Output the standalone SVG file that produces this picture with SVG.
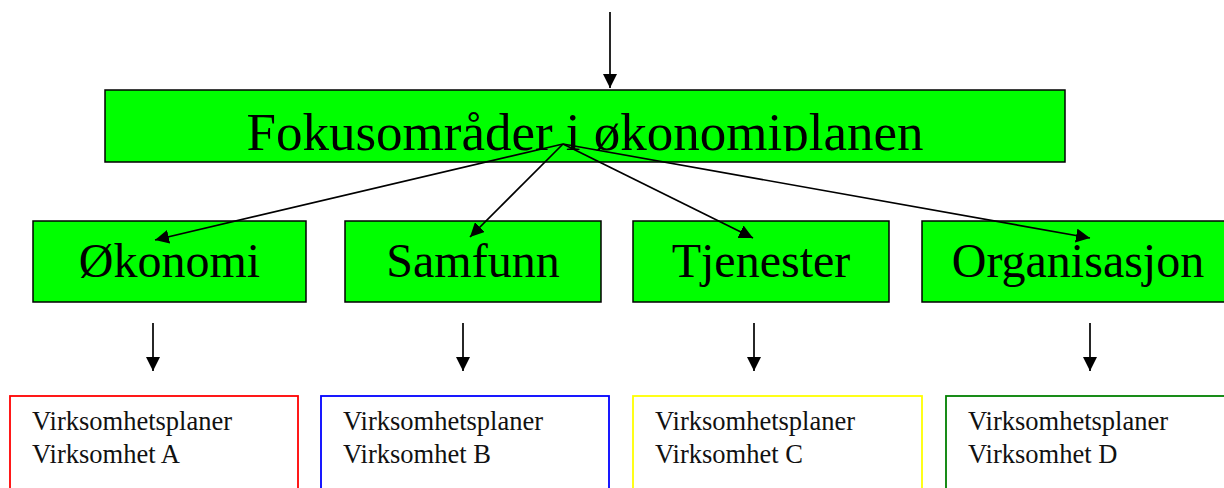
<svg xmlns="http://www.w3.org/2000/svg" width="1224" height="488" viewBox="0 0 1224 488">
<style>
.g{fill:#00FF00;stroke:#000;stroke-width:1.5}
.big{font-family:"Liberation Serif","Times New Roman",serif;fill:#000;text-anchor:middle}
.sm{font-family:"Liberation Serif","Times New Roman",serif;font-size:26.5px;fill:#111}
.c{stroke:#000;stroke-width:1.7;fill:none;marker-end:url(#ah)}
.b{fill:#fff;stroke-width:1.8}
</style>
<defs>
<marker id="ah" markerUnits="userSpaceOnUse" viewBox="0 0 14 14" refX="14" refY="7" markerWidth="14" markerHeight="14" orient="auto">
<path d="M0,0 L14,7 L0,14 z" fill="#000"/>
</marker>
<clipPath id="topclip"><rect x="105" y="90" width="960" height="61"/></clipPath>
</defs>
<rect width="1224" height="488" fill="#fff"/>
<g id="top">
<rect class="g" x="105" y="90" width="960" height="72"/>
<text class="big" x="585" y="150" font-size="53" clip-path="url(#topclip)">Fokusområder i økonomiplanen</text>
</g>
<g id="okonomi">
<rect class="g" x="33" y="221" width="273" height="81"/>
<text class="big" x="169.5" y="277" font-size="48">Økonomi</text>
</g>
<g id="samfunn">
<rect class="g" x="345" y="221" width="256" height="81"/>
<text class="big" x="473" y="277" font-size="48">Samfunn</text>
</g>
<g id="tjenester">
<rect class="g" x="633" y="221" width="256" height="81"/>
<text class="big" x="761" y="277" font-size="48">Tjenester</text>
</g>
<g id="organisasjon">
<rect class="g" x="922" y="221" width="310" height="81"/>
<text class="big" x="1078" y="277" font-size="48">Organisasjon</text>
</g>
<g id="virkA">
<rect class="b" x="10" y="396" width="288" height="120" stroke="#FF0000"/>
<text class="sm" x="32" y="430">Virksomhetsplaner</text>
<text class="sm" x="32" y="463">Virksomhet A</text>
</g>
<g id="virkB">
<rect class="b" x="321" y="396" width="288" height="120" stroke="#0000FF"/>
<text class="sm" x="343" y="430">Virksomhetsplaner</text>
<text class="sm" x="343" y="463">Virksomhet B</text>
</g>
<g id="virkC">
<rect class="b" x="633" y="396" width="289" height="120" stroke="#FFFF00"/>
<text class="sm" x="655" y="430">Virksomhetsplaner</text>
<text class="sm" x="655" y="463">Virksomhet C</text>
</g>
<g id="virkD">
<rect class="b" x="946" y="396" width="300" height="120" stroke="#008000"/>
<text class="sm" x="968" y="430">Virksomhetsplaner</text>
<text class="sm" x="968" y="463">Virksomhet D</text>
</g>
<g id="connectors">
<line class="c" x1="610" y1="12" x2="610" y2="88"/>
<line class="c" x1="563" y1="144" x2="155" y2="240"/>
<line class="c" x1="563" y1="144" x2="470" y2="237"/>
<line class="c" x1="563" y1="144" x2="753" y2="238"/>
<line class="c" x1="563" y1="144" x2="1090" y2="238"/>
<line class="c" x1="153" y1="323" x2="153" y2="371"/>
<line class="c" x1="463" y1="323" x2="463" y2="371"/>
<line class="c" x1="754" y1="323" x2="754" y2="371"/>
<line class="c" x1="1090" y1="323" x2="1090" y2="371"/>
</g>
</svg>
